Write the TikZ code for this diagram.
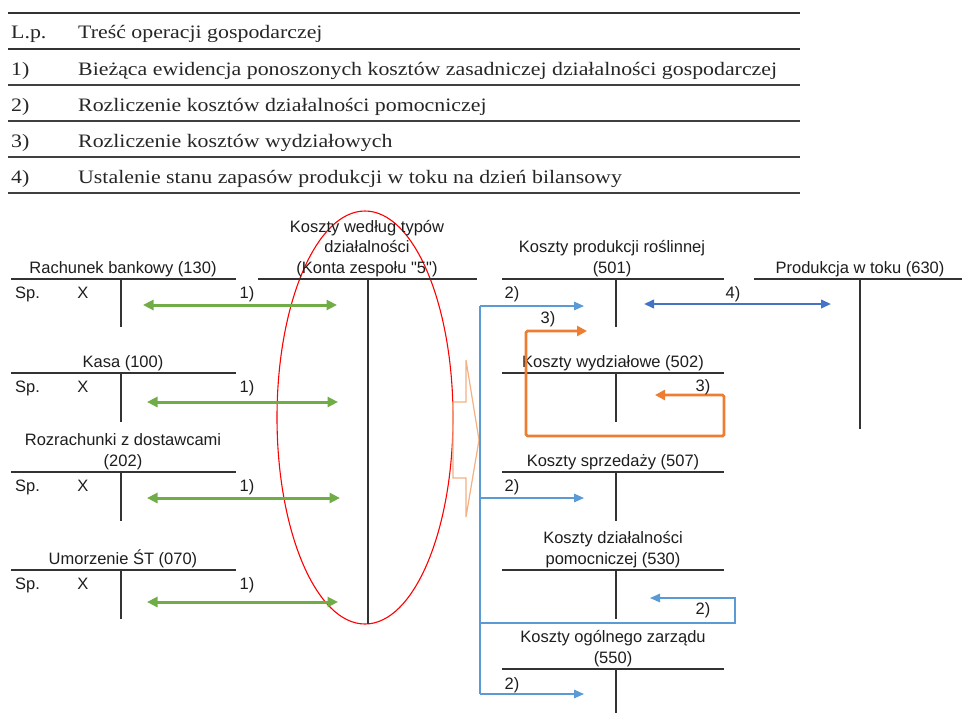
\documentclass[tikz,border=0pt]{standalone}
\usepackage{fontspec}
\setmainfont{Liberation Serif}
\newfontfamily\arialf{Liberation Sans}
\newfontfamily\tabf[FakeStretch=1.15]{Liberation Serif}
\font\arq="Liberation Sans" at 16.5pt
\usetikzlibrary{arrows.meta,shapes.geometric}
\definecolor{grn}{HTML}{70AD47}
\definecolor{blu}{HTML}{5B9BD5}
\definecolor{dblu}{HTML}{4472C4}
\definecolor{org}{HTML}{ED7D31}
\definecolor{lorg}{HTML}{F4B183}
\definecolor{txt}{HTML}{1E1E1E}
\begin{document}
\begin{tikzpicture}[x=1pt,y=-1pt,
  acc/.style={draw=black!80, line width=1.4pt},
  lbl/.style={font=\arialf\fontsize{16.5}{20.5}\selectfont, text=txt, inner sep=0pt, align=center},
  title/.style={lbl, anchor=south},
  small/.style={lbl, anchor=base},
  smallw/.style={lbl, anchor=base west},
  tab/.style={font=\tabf\fontsize{19}{23}\selectfont, text=black!85, inner sep=0pt, anchor=base west},
  thickrule/.style={draw=black!80, line width=2.7pt},
  thinrule/.style={draw=black!75, line width=1.1pt},
  garrow/.style={draw=grn, line width=3pt, {Triangle[length=10.5pt,width=10pt]}-{Triangle[length=10.5pt,width=10pt]}},
  darrow/.style={draw=dblu, line width=2.2pt, {Triangle[length=10pt,width=8.5pt]}-{Triangle[length=10pt,width=8.5pt]}},
  oarrow/.style={draw=org, line width=2.8pt, rounded corners=1.5pt, {Triangle[length=10pt,width=10pt]}-{Triangle[length=10pt,width=10pt]}},
  barrow/.style={draw=blu, line width=1.4pt, -{Triangle[length=10pt,width=8.5pt]}},
  bline/.style={draw=blu, line width=1.4pt}
]
\fill[white] (0,0) rectangle (965,713);
\useasboundingbox (0,0) rectangle (965,713);

% ---------- table ----------
\draw[thickrule] (8,13) -- (800,13);
\draw[thickrule] (8,49) -- (800,49);
\draw[thinrule] (8,85) -- (800,85);
\draw[thinrule] (8,121) -- (800,121);
\draw[thinrule] (8,157) -- (800,157);
\draw[thinrule] (8,193) -- (800,193);
\node[tab] (lp) at (11,38) {L.p.};
\node[tab] (th) at (78,38) {Treść operacji gospodarczej};
\node[tab] (n1) at (11,75) {1)};
\node[tab] (t1) at (78,75) {Bieżąca ewidencja ponoszonych kosztów zasadniczej działalności gospodarczej};
\node[tab] (n2) at (11,111) {2)};
\node[tab] (t2) at (78,111) {Rozliczenie kosztów działalności pomocniczej};
\node[tab] (n3) at (11,147) {3)};
\node[tab] (t3) at (78,147) {Rozliczenie kosztów wydziałowych};
\node[tab] (n4) at (11,183) {4)};
\node[tab] (t4) at (78,183) {Ustalenie stanu zapasów produkcji w toku na dzień bilansowy};

% ---------- ellipse and orange brace ----------
\node[draw=red, line width=1.1pt, ellipse, minimum width=176pt, minimum height=413pt, inner sep=0pt] (ell) at (365,417.5) {};
\draw[lorg, line width=1.2pt] (466,360) -- (466,402) -- (453,402) -- (453,478) -- (466,478) -- (466,517) -- (479,440) -- cycle;

% ---------- left accounts ----------
\node[title] (rb) at (123,277) {Rachunek bankowy (130)};
\draw[acc] (11,279) -- (236,279);
\draw[acc] (121,279) -- (121,327);
\node[smallw] (rbsp) at (15,298) {Sp.};
\node[small] (rbx) at (83,298) {X};
\node[small] (rb1) at (247,298) {1)};

\node[title] (ks) at (123,371) {Kasa (100)};
\draw[acc] (11,373) -- (236,373);
\draw[acc] (121,373) -- (121,422);
\node[smallw] (kssp) at (15,392) {Sp.};
\node[small] (ksx) at (83,392) {X};
\node[small] (ks1) at (247,392) {1)};

\node[title] (rz) at (123,470) {Rozrachunki z dostawcami\\(202)};
\draw[acc] (11,472) -- (236,472);
\draw[acc] (121,472) -- (121,521);
\node[smallw] (rzsp) at (15,491) {Sp.};
\node[small] (rzx) at (83,491) {X};
\node[small] (rz1) at (247,491) {1)};

\node[title] (um) at (123,568) {Umorzenie ŚT (070)};
\draw[acc] (11,570) -- (236,570);
\draw[acc] (121,570) -- (121,619);
\node[smallw] (umsp) at (15,589) {Sp.};
\node[small] (umx) at (83,589) {X};
\node[small] (um1) at (247,589) {1)};

% ---------- central account ----------
\node[title] (kt) at (367,277) {Koszty według typów\\działalności\\(Konta zespołu {\arq"}5{\arq"})};
\draw[acc] (258,279) -- (477,279);
\draw[acc] (368,279) -- (368,624);

% ---------- right accounts ----------
\node[title] (k501) at (612,277) {Koszty produkcji roślinnej\\(501)};
\draw[acc] (502,279) -- (724,279);
\draw[acc] (616,279) -- (616,327);

\node[title] (k502) at (613,371) {Koszty wydziałowe (502)};
\draw[acc] (502,373) -- (724,373);
\draw[acc] (616,373) -- (616,422);

\node[title] (k507) at (613,470) {Koszty sprzedaży (507)};
\draw[acc] (502,472) -- (724,472);
\draw[acc] (616,472) -- (616,521);

\node[title] (k530) at (613,568) {Koszty działalności\\pomocniczej (530)};
\draw[acc] (502,570) -- (724,570);
\draw[acc] (616,570) -- (616,619);

\node[title] (k550) at (613,667) {Koszty ogólnego zarządu\\(550)};
\draw[acc] (502,669) -- (724,669);
\draw[acc] (616,669) -- (616,713);

\node[title] (p630) at (860,277) {Produkcja w toku (630)};
\draw[acc] (754,279) -- (962,279);
\draw[acc] (860,279) -- (860,429);

% ---------- green arrows (1) ----------
\coordinate (g1a) at (143,305); \coordinate (g1b) at (337,305);
\coordinate (g2a) at (147,402); \coordinate (g2b) at (338,402);
\coordinate (g3a) at (147,498); \coordinate (g3b) at (340,498);
\coordinate (g4a) at (147,602); \coordinate (g4b) at (338,602);
\draw[garrow] (g1a) -- (g1b);
\draw[garrow] (g2a) -- (g2b);
\draw[garrow] (g3a) -- (g3b);
\draw[garrow] (g4a) -- (g4b);

% ---------- blue distribution (2) ----------
\coordinate (s1) at (480,306); \coordinate (s2) at (480,498);
\coordinate (s3) at (480,623); \coordinate (s4) at (480,694);
\coordinate (e1) at (584,306); \coordinate (e2) at (584,498);
\coordinate (e4) at (584,694); \coordinate (e3) at (650,598);
\draw[bline] (s1) -- (s4);
\draw[barrow] (s1) -- (e1);
\draw[barrow] (s2) -- (e2);
\draw[barrow] (s4) -- (e4);
\draw[barrow] (s3) -- (735,623) -- (735,598) -- (e3);
\node[small] (l2a) at (512,298) {2)};
\node[small] (l2b) at (512,491) {2)};
\node[small] (l2c) at (512,689) {2)};
\node[small] (l2d) at (703,614) {2)};

% ---------- orange loop (3) ----------
\coordinate (o1) at (587,331); \coordinate (o2) at (655,395);
\draw[oarrow] (o1) -- (526,331) -- (526,436) -- (724,436) -- (724,395) -- (o2);
\node[small] (l3a) at (548,323) {3)};
\node[small] (l3b) at (703,391) {3)};

% ---------- dark blue (4) ----------
\coordinate (d1) at (644,304); \coordinate (d2) at (831,304);
\draw[darrow] (d1) -- (d2);
\node[small] (l4) at (733,298) {4)};
\end{tikzpicture}
\end{document}
